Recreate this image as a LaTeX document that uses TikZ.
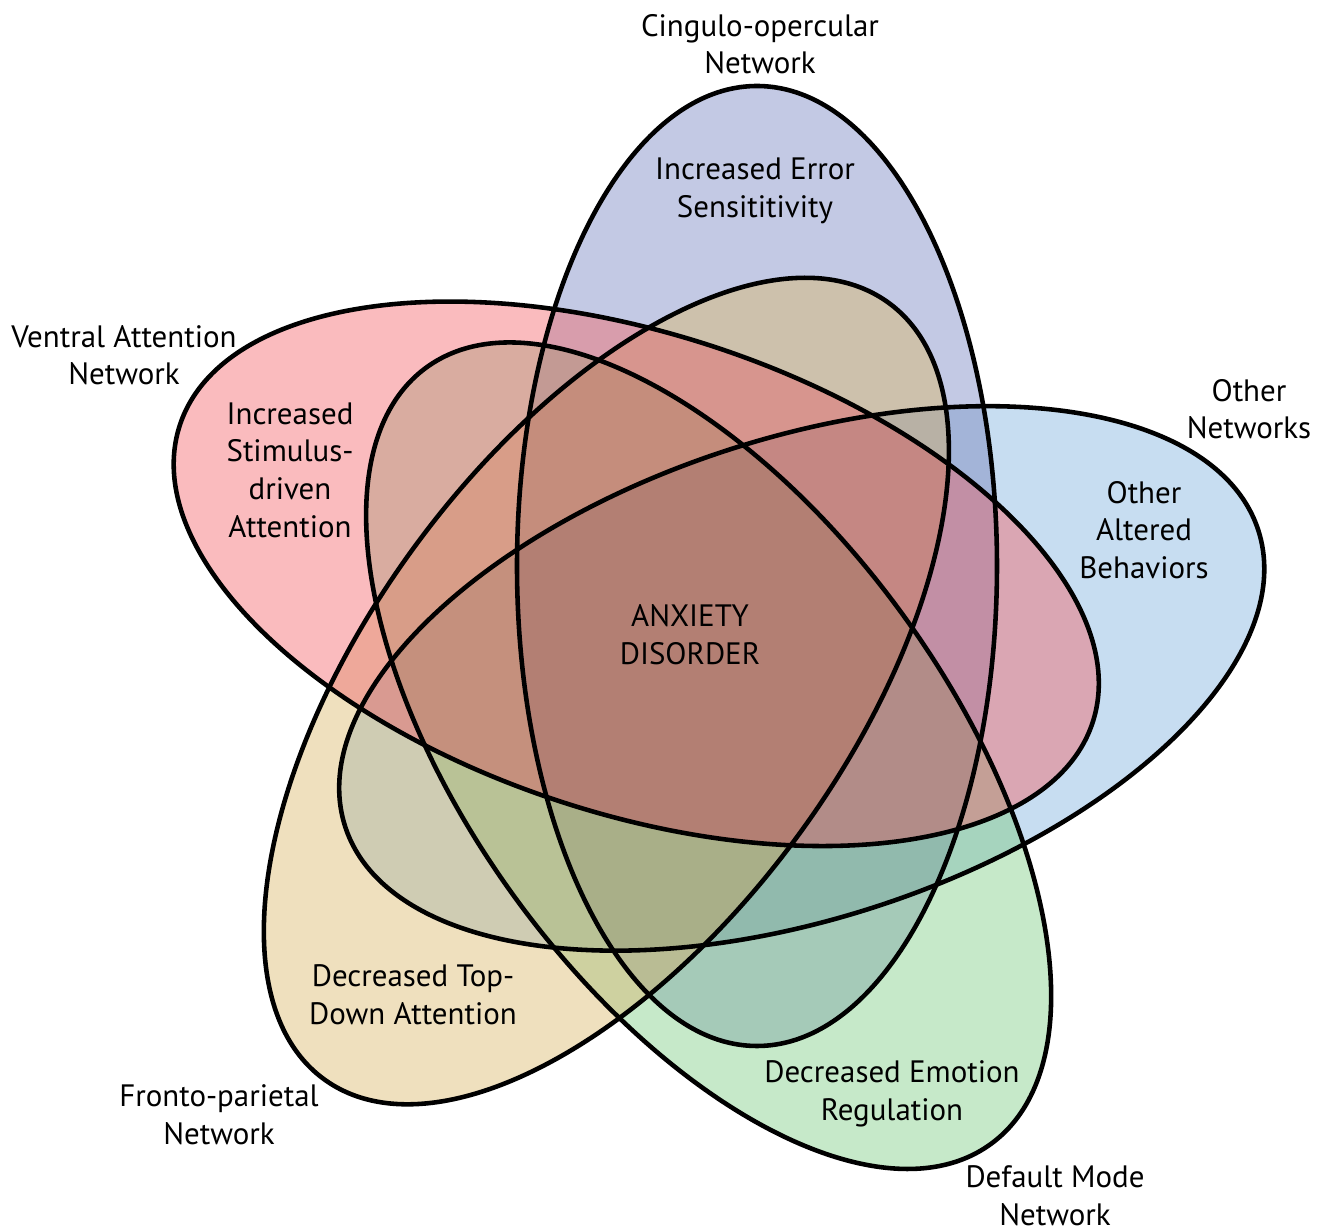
\documentclass[tikz,border=0pt]{standalone}
\usepackage{fontspec}
\setmainfont{PT Sans}
\begin{document}
\begin{tikzpicture}[x=0.1mm,y=-0.1mm,
    lbl/.style={align=center, inner sep=0pt, font=\fontsize{8.8}{10.7}\selectfont}]
    \colorlet{cblue}{rgb,255:red,135;green,147;blue,201}
    \colorlet{cpink}{rgb,255:red,245;green,119;blue,125}
    \colorlet{ctan}{rgb,255:red,223;green,193;blue,125}
    \colorlet{cgreen}{rgb,255:red,141;green,211;blue,147}
    \colorlet{clblue}{rgb,255:red,143;green,187;blue,227}

    \useasboundingbox (0,0) rectangle (1328,1232);
    \coordinate (C) at (702,653);

    % the five lobes, each turned by 72 degrees
    \foreach \i/\c in {4/clblue,0/cblue,3/cgreen,2/ctan,1/cpink}
        \fill[\c, fill opacity=0.5, rotate around={72*\i:(C)}] (757,566) ellipse [x radius=24mm, y radius=48mm];

    % overlaps get a little darker
    \foreach \i in {0,...,3} {
        \pgfmathtruncatemacro{\k}{\i+1}
        \foreach \j in {\k,...,4} {
            \begin{scope}
                \clip[rotate around={72*\i:(C)}] (757,566) ellipse [x radius=24mm, y radius=48mm];
                \clip[rotate around={72*\j:(C)}] (757,566) ellipse [x radius=24mm, y radius=48mm];
                \fill[black, fill opacity=0.016] (0,0) rectangle (1328,1232);
            \end{scope}
        }
    }

    \foreach \i in {0,...,4}
        \draw[line width=1.3pt, rotate around={72*\i:(C)}] (757,566) ellipse [x radius=24mm, y radius=48mm];

    \node[lbl] (cingulo) at (760,44) {Cingulo-opercular\\Network};
    \node[lbl] (error) at (755,191) {Increased Error\\Sensititivity};
    \node[lbl] (ventral) at (124,355) {Ventral Attention\\Network};
    \node[lbl] (stimulus) at (290,470) {Increased\\Stimulus-\\driven\\Attention};
    \node[lbl] (othernet) at (1249,409) {Other\\Networks};
    \node[lbl] (otherbeh) at (1144,530) {Other\\Altered\\Behaviors};
    \node[lbl] (anxiety) at (690,635) {ANXIETY\\DISORDER};
    \node[lbl] (topdown) at (413,995) {Decreased Top-\\Down Attention};
    \node[lbl] (fronto) at (219,1115) {Fronto-parietal\\Network};
    \node[lbl] (emotion) at (892,1094) {Decreased Emotion\\Regulation};
    \node[lbl] (default) at (1055,1196) {Default Mode\\Network};
\end{tikzpicture}
\end{document}
